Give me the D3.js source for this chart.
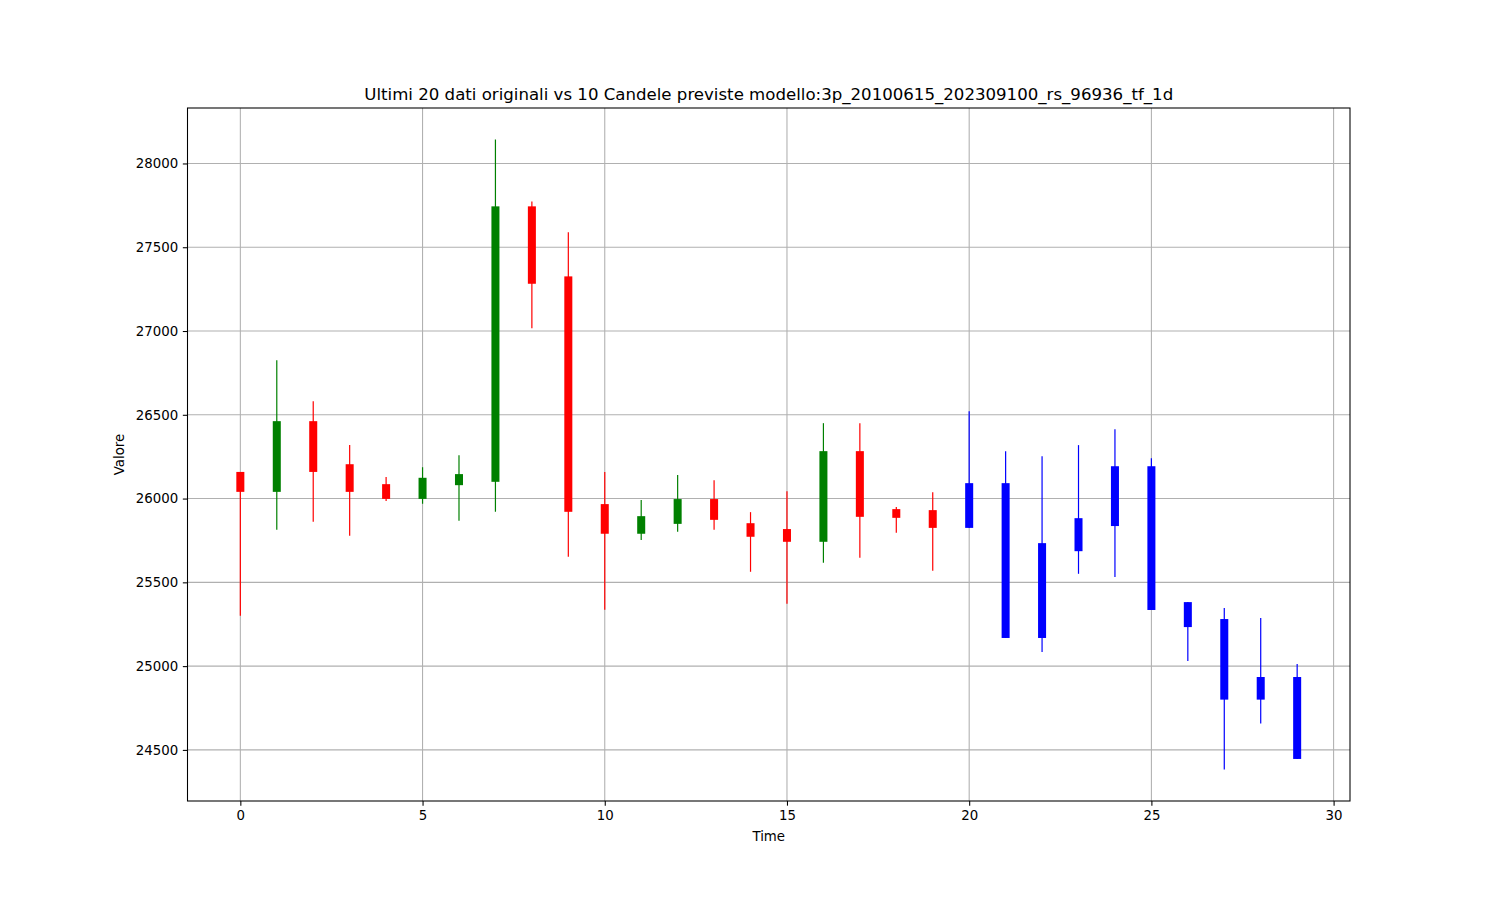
<!DOCTYPE html>
<html><head><meta charset="utf-8">
<script src="https://cdn.jsdelivr.net/npm/d3@7"></script>
<style>body{margin:0;background:#fff}svg{display:block;font-family:"DejaVu Sans",sans-serif}</style>
</head><body><svg id="c" width="1500" height="900"></svg>
<script>
const times = d3.range(30);
const opens  = [26159,26040,26462,26205,26086,25998,26080,26100,27744,27326,25967,25790,25849,25997,25853,25818,25742,26283,25937,25931, 25825,26092,25168,25686,25836,26193,25382,25281,24935,24935];
const highs  = [26159,26825,26581,26320,26128,26187,26259,28143,27773,27589,26158,25991,26140,26110,25919,26044,26450,26450,25949,26038, 26521,26283,26253,26319,26414,26241,25382,25347,25287,25013];
const lows   = [25300,25814,25861,25778,25986,25969,25867,25921,27016,25653,25337,25752,25802,25814,25563,25372,25617,25647,25796,25569, 25825,25168,25084,25551,25532,25335,25031,24383,24657,24446];
const closes = [26040,26462,26159,26040,25998,26124,26146,27744,27282,25921,25790,25895,25997,25873,25772,25742,26283,25891,25885,25825, 26092,25168,25734,25883,26193,25335,25233,24800,24800,24446];
const nOriginal = 20;
const xTicks = [0,5,10,15,20,25,30];
const yTicks = [24500,25000,25500,26000,26500,27000,27500,28000];
const titleText = "Ultimi 20 dati originali vs 10 Candele previste modello:3p_20100615_202309100_rs_96936_tf_1d";

const L=187.5,R=1350,T=108,B=801;
const svg=d3.select("#c");
const xmin=d3.min(times),xmax=d3.max(times),xm=(xmax-xmin)*0.05;
const x=d3.scaleLinear().domain([xmin-xm,xmax+xm]).range([L,R]);
const ylo=d3.min(lows),yhi=d3.max(highs),ym=(yhi-ylo)*0.05;
const y=d3.scaleLinear().domain([ylo-ym,yhi+ym]).range([B,T]);

// grid
svg.append("g").selectAll("line").data(xTicks).join("line")
 .attr("x1",d=>x(d)).attr("x2",d=>x(d)).attr("y1",T).attr("y2",B)
 .attr("stroke","#b0b0b0").attr("stroke-width",1.07);
svg.append("g").selectAll("line").data(yTicks).join("line")
 .attr("x1",L).attr("x2",R).attr("y1",d=>y(d)).attr("y2",d=>y(d))
 .attr("stroke","#b0b0b0").attr("stroke-width",1.07);

const data=times.map((t,i)=>({t,o:opens[i],h:highs[i],l:lows[i],c:closes[i],i}));
const col=d=>d.i>=nOriginal?"#0000ff":(d.c>=d.o?"#008000":"#ff0000");
const bw=x(0.22)-x(0);
const g=svg.append("g");
g.selectAll("line.w").data(data).join("line").attr("class","w")
 .attr("x1",d=>x(d.t)).attr("x2",d=>x(d.t)).attr("y1",d=>y(d.h)).attr("y2",d=>y(d.l))
 .attr("stroke",col).attr("stroke-width",1.2);
g.selectAll("rect").data(data).join("rect")
 .attr("x",d=>x(d.t)-bw/2).attr("width",bw)
 .attr("y",d=>y(Math.max(d.o,d.c))).attr("height",d=>Math.max(1,Math.abs(y(d.o)-y(d.c))))
 .attr("fill",col);

// axes
const xa=svg.append("g").attr("transform",`translate(0,${B})`).call(d3.axisBottom(x).tickValues(xTicks).tickSize(4.67).tickPadding(4.67).tickFormat(d3.format("d")));
const ya=svg.append("g").attr("transform",`translate(${L},0)`).call(d3.axisLeft(y).tickValues(yTicks).tickSize(4.67).tickPadding(4.67).tickFormat(d3.format("d")));
[xa,ya].forEach(a=>{a.select(".domain").remove();a.selectAll("text").attr("font-size",13.33).attr("font-family","DejaVu Sans").attr("fill","#000");a.selectAll("line").attr("stroke","#000").attr("stroke-width",1.07);});
svg.append("rect").attr("x",L).attr("y",T).attr("width",R-L).attr("height",B-T).attr("fill","none").attr("stroke","#000").attr("stroke-width",1.07);

svg.append("text").attr("x",(L+R)/2).attr("y",T-8).attr("text-anchor","middle").attr("font-size",16.6).text(titleText);
svg.append("text").attr("x",(L+R)/2).attr("y",841).attr("text-anchor","middle").attr("font-size",13.33).text("Time");
svg.append("text").attr("transform",`translate(124,${(T+B)/2}) rotate(-90)`).attr("text-anchor","middle").attr("font-size",13.33).text("Valore");
</script></body></html>
